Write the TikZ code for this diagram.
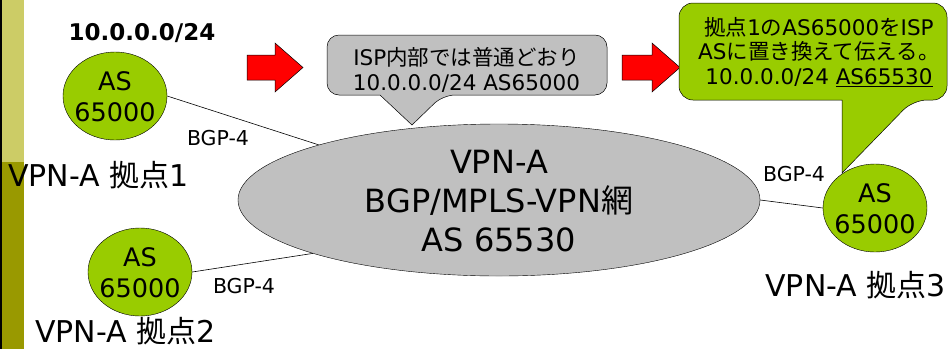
\documentclass[tikz,border=0pt]{standalone}
\usepackage{fontspec}
\setmainfont{DejaVu Sans}
\newfontfamily\jp{Noto Sans CJK JP}
\usetikzlibrary{shapes.geometric}
\definecolor{sitegreen}{HTML}{99CC00}
\definecolor{netgray}{HTML}{C0C0C0}
\definecolor{barlight}{HTML}{CCCC66}
\definecolor{bardark}{HTML}{999900}
\tikzset{
  site/.style={ellipse,draw=black,fill=sitegreen,minimum width=104pt,minimum height=88pt,inner sep=0pt},
  sitetext/.style={align=center,inner sep=0pt,font=\fontsize{25.5}{31}\selectfont},
  lbl/.style={inner sep=0pt,font=\fontsize{30}{34}\selectfont},
  bgp/.style={inner sep=0pt,font=\fontsize{20.5}{24}\selectfont},
  calltext/.style={align=center,inner sep=0pt,font=\fontsize{21.5}{24.5}\selectfont},
  redarrow/.style={draw=black,fill=red,line width=0.5pt},
  conn/.style={draw=black,line width=0.6pt}
}
\begin{document}
\begin{tikzpicture}[x=1pt,y=-1pt]
\useasboundingbox (0,0) rectangle (951,349);
% left bar
\fill[barlight] (2,0) rectangle (24,162);
\fill[bardark] (2,162) rectangle (24,349);
\fill[black] (0,0) rectangle (2,349);
% main network
\node[ellipse,draw=black,fill=netgray,minimum width=522pt,minimum height=152pt,inner sep=0pt] (main) at (499,200) {};
\node[align=center,inner sep=0pt,font=\fontsize{32}{39}\selectfont] (maintext) at (499,201) {VPN-A\\BGP/MPLS-VPN{\jp 網}\\AS 65530};
% sites
\node[site] (s1) at (115,96) {};
\node[sitetext] (s1t) at (115,96.5) {AS\\65000};
\node[site] (s2) at (140,272) {};
\node[sitetext] (s2t) at (140,272.5) {AS\\65000};
\node[site] (s3) at (875,208) {};
\node[sitetext] (s3t) at (875,208.5) {AS\\65000};
% connectors
\draw[conn] (s1.east) -- (main.163.6);
\draw[conn] (s2.east) -- (main.196.4);
\draw[conn] (main.east) -- (s3.west);
% labels
\node[bgp] (b1) at (218,138) {BGP-4};
\node[bgp] (b2) at (244,286) {BGP-4};
\node[bgp] (b3) at (794,174) {BGP-4};
\node[inner sep=0pt,font=\bfseries\fontsize{23}{27}\selectfont] (net) at (142,33) {10.0.0.0/24};
\node[lbl,anchor=west] (l1) at (8,175) {VPN-A {\jp 拠点}1};
\node[lbl,anchor=west] (l2) at (35,331) {VPN-A {\jp 拠点}2};
\node[lbl,anchor=east] (l3) at (946,285) {VPN-A {\jp 拠点}3};
% red arrows
\draw[redarrow] (247,55) -- (275,55) -- (275,43) -- (303,67.5) -- (275,92) -- (275,80) -- (247,80) -- cycle;
\draw[redarrow] (622,55) -- (652,55) -- (652,43) -- (680,67.5) -- (652,92) -- (652,80) -- (622,80) -- cycle;
% gray callout
\draw[draw=black,fill=netgray,line width=0.5pt] (380,95) [rounded corners=12] -- (327,95) -- (327,35) -- (607,35) -- (607,95) -- (443,95) [sharp corners] -- (412,125) -- cycle;
\node[calltext] (c1) at (466.5,70) {ISP{\jp 内部では普通どおり}\\10.0.0.0/24 AS65000};
% green callout
\draw[draw=black,fill=sitegreen,line width=0.5pt] (842,100) [rounded corners=14] -- (679,100) -- (679,3) -- (947,3) -- (947,100) -- (913,100) [sharp corners] -- (842,173) -- cycle;
\node[calltext] (c2) at (819,52) {{\jp 拠点}1{\jp の}AS65000{\jp を}ISP\\AS{\jp に置き換えて伝える。}\\10.0.0.0/24 \underline{AS65530}};
\end{tikzpicture}
\end{document}
